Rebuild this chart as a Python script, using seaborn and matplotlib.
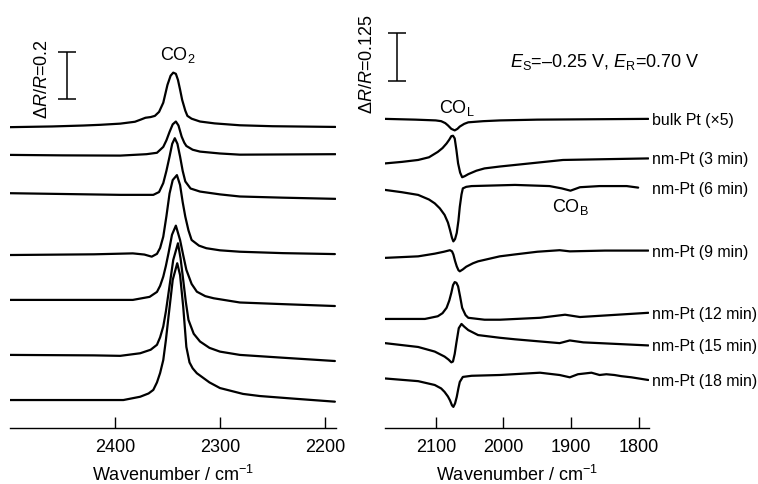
"""
plot.py
-------
Espectros IR (CO2 a la izquierda, CO adsorbido a la derecha) apilados.
"""

import matplotlib
matplotlib.use("Agg")
import matplotlib.pyplot as plt
import seaborn as sns
import numpy as np

# ===== DATOS: PANEL IZQUIERDO (CO2) =====
# cada espectro: números de onda y ΔR/R relativo a su línea base
co2_wn = [
    [2500, 2460, 2430, 2414, 2395, 2381, 2375, 2371, 2366, 2362, 2358, 2354, 2350, 2347, 2344.5, 2342, 2340,
     2338, 2336, 2333, 2331, 2327, 2319, 2305, 2281, 2250, 2190],
    [2500, 2450, 2395, 2370, 2360, 2354, 2351, 2348, 2345, 2342, 2339.5, 2336.5, 2334, 2332, 2326, 2319,
     2300, 2281, 2190],
    [2500, 2395, 2363.5, 2358, 2354, 2351, 2348, 2345.5, 2343, 2340.5, 2338, 2335.5, 2333, 2328, 2319, 2300,
     2281, 2240, 2190],
    [2500, 2420, 2383, 2372, 2365, 2360, 2357, 2354, 2351, 2348, 2345, 2341, 2338, 2335.5, 2333, 2330, 2327,
     2320, 2313, 2300, 2281, 2240, 2190.5],
    [2500, 2420, 2383, 2367, 2360, 2357, 2354, 2351.5, 2349, 2345.7, 2342, 2338, 2335, 2332, 2327, 2322, 2314,
     2306, 2281, 2240, 2190.5],
    [2500, 2420, 2395, 2376, 2366, 2360, 2357, 2354, 2351.5, 2349, 2344.5, 2340, 2337.5, 2335, 2332.5, 2330,
     2325, 2319, 2310, 2300, 2281, 2240, 2190.5],
    [2500, 2392, 2376, 2368, 2363.5, 2360, 2357, 2354, 2351.5, 2349, 2345, 2340.7, 2338, 2335, 2332, 2329,
     2326, 2322, 2310, 2300, 2278, 2262, 2230, 2190.5],
]
co2_dr = [
    [0, 0.003, 0.007, 0.010, 0.015, 0.023, 0.033, 0.040, 0.043, 0.048, 0.065, 0.104, 0.180, 0.219, 0.232,
     0.227, 0.201, 0.160, 0.116, 0.070, 0.048, 0.036, 0.024, 0.016, 0.008, 0.004, 0.001],
    [0, -0.002, -0.003, 0.003, 0.009, 0.034, 0.062, 0.098, 0.130, 0.142, 0.125, 0.078, 0.052, 0.038, 0.022,
     0.014, 0.006, 0.001, 0.003],
    [0, -0.007, -0.007, 0.005, 0.043, 0.095, 0.156, 0.210, 0.234, 0.210, 0.156, 0.095, 0.050, 0.020, 0.007,
     -0.005, -0.014, -0.019, -0.024],
    [0, 0.003, 0.007, 0.002, -0.007, 0.005, 0.030, 0.078, 0.165, 0.262, 0.319, 0.340, 0.298, 0.225, 0.163,
     0.105, 0.064, 0.040, 0.029, 0.020, 0.014, 0.008, 0.004],
    [0, 0.0, 0.0, 0.013, 0.034, 0.060, 0.099, 0.145, 0.199, 0.277, 0.316, 0.255, 0.190, 0.128, 0.068, 0.035,
     0.016, 0.007, -0.011, -0.018, -0.026],
    [0, -0.002, -0.004, 0.007, 0.022, 0.043, 0.075, 0.121, 0.185, 0.263, 0.404, 0.475, 0.410, 0.319, 0.225,
     0.149, 0.090, 0.057, 0.030, 0.014, 0.0, -0.012, -0.026],
    [0, 0.0, 0.014, 0.028, 0.043, 0.075, 0.115, 0.170, 0.255, 0.355, 0.511, 0.582, 0.532, 0.397, 0.226,
     0.160, 0.135, 0.114, 0.075, 0.051, 0.026, 0.017, 0.006, -0.007],
]
co2_offsets = [1.280, 1.162, 0.999, 0.736, 0.545, 0.311, 0.119]

# ===== DATOS: PANEL DERECHO (CO) =====
co_labels = ["bulk Pt (×5)", "nm-Pt (3 min)", "nm-Pt (6 min)", "nm-Pt (9 min)",
             "nm-Pt (12 min)", "nm-Pt (15 min)", "nm-Pt (18 min)"]
co_wn = [
    [2175, 2130, 2100, 2092, 2086, 2082, 2077, 2072, 2068, 2064.5, 2058, 2052, 2030, 2005, 1950, 1786],
    [2175, 2150, 2126, 2110, 2097, 2090, 2084, 2080, 2077, 2074.5, 2072, 2069.5, 2067, 2064, 2061, 2057,
     2052, 2040, 2028, 2005, 1983, 1912, 1850, 1786],
    [2175, 2150, 2126, 2110, 2101.5, 2094, 2087, 2082, 2079, 2076, 2074, 2071.5, 2069, 2066.5, 2064.5, 2062,
     2060, 2055, 2047, 1983, 1932, 1914, 1901, 1887, 1858, 1818, 1801],
    [2175, 2126, 2101.5, 2088, 2079, 2076, 2074, 2071.5, 2069, 2066.5, 2064.5, 2060, 2055, 2045, 2037.5,
     2005.5, 1983, 1950, 1917, 1902, 1850, 1786],
    [2175, 2116, 2097, 2090, 2084, 2080, 2077, 2074.5, 2072, 2069.5, 2067, 2064, 2061, 2056, 2052, 2028,
     2005, 1946, 1909, 1887, 1850, 1786],
    [2175, 2126, 2101.5, 2087, 2081, 2077, 2074.6, 2072, 2069.6, 2066, 2062, 2058, 2052, 2037.5, 2005.5,
     1983, 1917, 1902, 1882, 1786],
    [2175, 2126, 2101.5, 2092, 2087, 2082, 2079, 2076, 2074, 2071.5, 2069, 2066.5, 2064.5, 2060, 2047,
     2005.5, 1946, 1917, 1902, 1890, 1870, 1858, 1848, 1836, 1826, 1811, 1786],
]
co_dr = [
    [0, -0.002, -0.004, -0.006, -0.011, -0.017, -0.026, -0.030, -0.026, -0.020, -0.013, -0.009, -0.006,
     -0.004, -0.002, 0.0],
    [0, 0.004, 0.009, 0.016, 0.030, 0.040, 0.052, 0.062, 0.071, 0.072, 0.065, 0.035, 0.0, -0.024, -0.036,
     -0.033, -0.028, -0.019, -0.013, -0.008, -0.004, 0.009, 0.011, 0.013],
    [0, -0.006, -0.013, -0.025, -0.035, -0.048, -0.065, -0.085, -0.104, -0.125, -0.134, -0.128, -0.112,
     -0.080, -0.044, -0.012, 0.004, 0.008, 0.010, 0.013, 0.010, 0.004, -0.002, 0.007, 0.010, 0.010, 0.006],
    [0, 0.004, 0.011, 0.016, 0.020, 0.017, 0.009, -0.008, -0.022, -0.032, -0.035, -0.030, -0.023, -0.014,
     -0.009, 0.004, 0.009, 0.016, 0.020, 0.017, 0.019, 0.019],
    [0, 0.0, 0.007, 0.015, 0.029, 0.048, 0.068, 0.088, 0.096, 0.094, 0.085, 0.058, 0.029, 0.010, 0.003,
     -0.002, -0.002, 0.003, 0.011, 0.005, 0.009, 0.016],
    [0, -0.010, -0.022, -0.035, -0.043, -0.050, -0.048, -0.028, 0.0, 0.039, 0.050, 0.043, 0.034, 0.021,
     0.014, 0.010, 0.0, 0.007, 0.002, -0.006],
    [0, -0.007, -0.017, -0.026, -0.035, -0.047, -0.057, -0.070, -0.074, -0.065, -0.048, -0.025, -0.009,
     0.004, 0.007, 0.009, 0.015, 0.009, 0.003, 0.011, 0.015, 0.009, 0.011, 0.009, 0.006, 0.003, -0.004],
]
co_offsets = [0.805, 0.689, 0.620, 0.443, 0.284, 0.221, 0.129]

# ===== ESTILO =====
sns.set_style("ticks")
plt.rcParams['font.family'] = ['Liberation Sans', 'DejaVu Sans']
plt.rcParams['mathtext.fontset'] = 'custom'
plt.rcParams['mathtext.rm'] = 'Liberation Sans'
plt.rcParams['mathtext.it'] = 'Liberation Sans:italic'
plt.rcParams['text.color'] = 'black'
plt.rcParams['axes.labelcolor'] = 'black'
plt.rcParams['axes.edgecolor'] = 'black'
plt.rcParams['xtick.color'] = 'black'

fig = plt.figure(figsize=(7.58, 4.84), dpi=100)
ax1 = fig.add_axes([0.0132, 0.1157, 0.430, 0.843])
ax2 = fig.add_axes([0.5079, 0.1157, 0.3483, 0.843])

LW = 1.6

# ===== PANEL IZQUIERDO =====
for wn, dr, off in zip(co2_wn, co2_dr, co2_offsets):
    sns.lineplot(x=wn, y=np.array(dr) + off, ax=ax1, color='black', linewidth=LW,
                 sort=False, estimator=None)

ax1.set_xlim(2500, 2189.5)
ax1.set_ylim(0, 1.736)
ax1.set_xticks([2400, 2300, 2200])

# barra de escala
ax1.errorbar([2445.7], [1.5], yerr=[0.1], color='black', capsize=6.5, elinewidth=1.1, capthick=1.1)
ax1.text(2469.5, 1.485, r'Δ$\it{R}$/$\it{R}$=0.2', rotation=90, ha='center', va='center', fontsize=13)
ax1.text(2340, 1.587, r'CO$_2$', ha='center', va='center', fontsize=13)

# ===== PANEL DERECHO =====
for wn, dr, off, lab in zip(co_wn, co_dr, co_offsets, co_labels):
    sns.lineplot(x=wn, y=np.array(dr) + off, ax=ax2, color='black', linewidth=LW,
                 sort=False, estimator=None)
    ax2.text(1780, off + dr[-1] - 0.004, lab, ha='left', va='center', fontsize=11.4, clip_on=False)

ax2.set_xlim(2175, 1785)
ax2.set_ylim(0, 1.0625)
ax2.set_xticks([2100, 2000, 1900, 1800])

ax2.errorbar([2157.6], [0.9665], yerr=[0.0625], color='black', capsize=6.5, elinewidth=1.1, capthick=1.1)
ax2.text(2200.4, 0.948, r'Δ$\it{R}$/$\it{R}$=0.125', rotation=90, ha='center', va='center',
         fontsize=13, clip_on=False)
ax2.text(1990.7, 0.953, r'$\it{E}_{\rm S}$=–0.25 V, $\it{E}_{\rm R}$=0.70 V', ha='left', va='center',
         fontsize=13)
ax2.text(2069, 0.833, r'CO$_{\rm L}$', ha='center', va='center', fontsize=13)
ax2.text(1900.6, 0.576, r'CO$_{\rm B}$', ha='center', va='center', fontsize=13)

# ===== EJES =====
for ax in (ax1, ax2):
    for side in ('left', 'right', 'top'):
        ax.spines[side].set_visible(False)
    ax.spines['bottom'].set_linewidth(1.0)
    ax.set_yticks([])
    ax.tick_params(axis='x', direction='in', length=8, width=1.0, labelsize=13, pad=8)
    ax.set_xlabel(r'Wavenumber / cm$^{-1}$', fontsize=13, labelpad=6)
    ax.set_ylabel('')

fig.savefig('out.png', dpi=100)
